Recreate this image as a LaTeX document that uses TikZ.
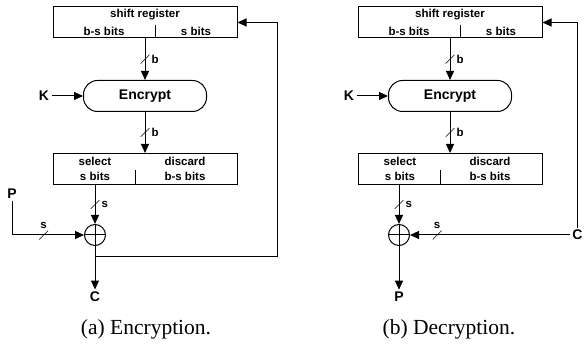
\documentclass[tikz,border=0pt]{standalone}
\usepackage{fontspec}
\setmainfont{Liberation Serif}
\setsansfont{Liberation Sans}
\usetikzlibrary{arrows.meta}
\usetikzlibrary{positioning}

\begin{document}
\begin{tikzpicture}[x=1pt,y=-1pt,line width=1pt,>={Triangle[length=9pt,width=8pt]},
                    every node/.append style={font=\sffamily\bfseries\fontsize{11.5}{11.5}\selectfont,inner sep=1pt},
                    reg/.style={draw,minimum width=184pt,minimum height=31pt},
                    enc/.style={draw,rounded corners=14pt,minimum width=123pt,minimum height=31pt,
                                font=\sffamily\bfseries\fontsize{14}{14}\selectfont},
                    io/.style={font=\sffamily\bfseries\fontsize{14}{14}\selectfont,inner sep=2pt},
                    xor/.style={draw,circle,minimum size=21pt,inner sep=0pt,
                                path picture={\draw[-] (path picture bounding box.north) -- (path picture bounding box.south)
                                                       (path picture bounding box.west) -- (path picture bounding box.east);}},
                    bus/.style={minimum size=9pt,inner sep=0pt,
                                path picture={\draw[-,line width=0.6pt] (path picture bounding box.south west) -- (path picture bounding box.north east);}},
                    capt/.style={font=\rmfamily\fontsize{21.5}{21.5}\selectfont}]
\useasboundingbox (0,0) rectangle (584,344);

% (a) encryption
\node[reg] (sra) at (145,22.5) {};
\node at ([yshift=-8pt]sra.north) {shift register};
\node at ([xshift=-41pt,yshift=7pt]sra.south) {b-s bits};
\node at ([xshift=51pt,yshift=7pt]sra.south) {s bits};
\draw ([xshift=10pt]sra.south) -- ++(0,-13);
\node[enc] (enca) at (145,96) {Encrypt};
\node[io] (ka) at (44,96) {K};
\node[reg] (sela) at (145,169) {};
\node at ([xshift=-50pt,yshift=-8pt]sela.north) {select};
\node at ([xshift=-50pt,yshift=9pt]sela.south) {s bits};
\node at ([xshift=40pt,yshift=-8pt]sela.north) {discard};
\node at ([xshift=40pt,yshift=9pt]sela.south) {b-s bits};
\draw ([xshift=-10pt]sela.south) -- ++(0,-15);
\node[xor] (xora) at (95,235) {};
\node[io] (pa) at (12,194) {P};
\node[io] (ca) at (95,297) {C};
\coordinate (fa) at (95,257);
\node[capt] (capa) at (146,329) {(a) Encryption.};

\draw[->] (sra) -- node[bus,label={[inner sep=1pt]right:b}]{} (enca);
\draw[->] (ka) -- (enca);
\draw[->] (enca) -- node[bus,label={[inner sep=1pt]right:b}]{} (sela);
\draw[->] (sela.south -| xora) -- node[bus,label={[inner sep=1pt]right:s}]{} (xora);
\draw[->] (pa) |- node[bus,pos=0.72,label={[inner sep=1pt]above:s}]{} (xora);
\draw[->] (xora) -- (ca);
\draw[->] (fa) -| ([xshift=40pt]sra.east) -- (sra.east);

% (b) decryption
\node[reg] (srb) at (450,22.5) {};
\node at ([yshift=-8pt]srb.north) {shift register};
\node at ([xshift=-41pt,yshift=7pt]srb.south) {b-s bits};
\node at ([xshift=51pt,yshift=7pt]srb.south) {s bits};
\draw ([xshift=10pt]srb.south) -- ++(0,-13);
\node[enc] (encb) at (450,96) {Encrypt};
\node[io] (kb) at (349,96) {K};
\node[reg] (selb) at (450,169) {};
\node at ([xshift=-50pt,yshift=-8pt]selb.north) {select};
\node at ([xshift=-50pt,yshift=9pt]selb.south) {s bits};
\node at ([xshift=40pt,yshift=-8pt]selb.north) {discard};
\node at ([xshift=40pt,yshift=9pt]selb.south) {b-s bits};
\draw ([xshift=-10pt]selb.south) -- ++(0,-15);
\node[xor] (xorb) at (399,235) {};
\node[io] (cb) at (577.5,235) {C};
\node[io] (pb) at (399,297) {P};
\node[capt] (capb) at (449,329) {(b) Decryption.};

\draw[->] (srb) -- node[bus,label={[inner sep=1pt]right:b}]{} (encb);
\draw[->] (kb) -- (encb);
\draw[->] (encb) -- node[bus,label={[inner sep=1pt]right:b}]{} (selb);
\draw[->] (selb.south -| xorb) -- node[bus,label={[inner sep=1pt]right:s}]{} (xorb);
\draw[->] (cb) -- node[bus,pos=0.83,label={[inner sep=1pt]above:s}]{} (xorb);
\draw[->] (xorb) -- (pb);
\draw[->] (cb.north) |- (srb.east);

\end{tikzpicture}
\end{document}
